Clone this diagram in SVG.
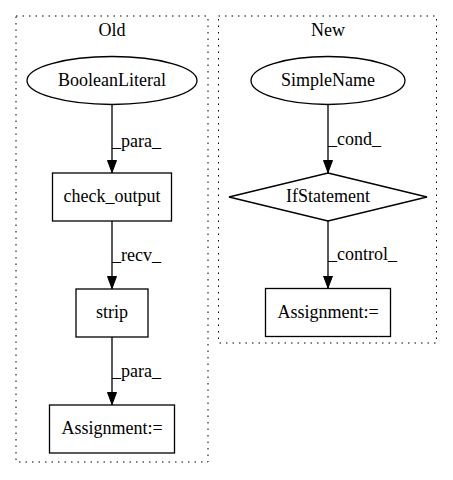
<svg xmlns="http://www.w3.org/2000/svg" width="453" height="480" viewBox="0 0 453 480">
<defs>
<marker id="arr" markerWidth="13" markerHeight="10" refX="13" refY="5" orient="auto" markerUnits="userSpaceOnUse">
<path d="M0.5,0.5 L12.5,5 L0.5,9.5 Z" fill="#000" stroke="#000"/>
</marker>
</defs>
<style>
text{font-family:"Liberation Serif","Times New Roman",Times,serif;font-size:18px;fill:#000}
.c{fill:none;stroke:#000;stroke-dasharray:1.5,5}
.n{fill:#fff;stroke:#000;stroke-width:1.3}
.e{fill:none;stroke:#000;stroke-width:1.3;marker-end:url(#arr)}
.m{text-anchor:middle}
</style>
<rect width="453" height="480" fill="#fff"/>
<g id="cluster_old">
<rect class="c" x="16" y="16" width="192" height="446"/>
<text class="m" x="112" y="36">Old</text>
</g>
<g id="cluster_new">
<rect class="c" x="218.5" y="16" width="218" height="327"/>
<text class="m" x="328" y="36">New</text>
</g>
<g id="edges">
<path class="e" d="M112,104.5 L112,173"/>
<text x="112" y="147">_para_</text>
<path class="e" d="M112,221 L112,289"/>
<text x="112" y="261">_recv_</text>
<path class="e" d="M112,337 L112,405"/>
<text x="112" y="377">_para_</text>
<path class="e" d="M328,104.5 L328,173"/>
<text x="328" y="145">_cond_</text>
<path class="e" d="M328,221 L328,288.5"/>
<text x="328" y="260">_control_</text>
</g>
<g id="n_boolean">
<ellipse class="n" cx="112" cy="80.5" rx="85" ry="24"/>
<text class="m" x="112" y="86">BooleanLiteral</text>
</g>
<g id="n_check">
<rect class="n" x="52.5" y="173" width="119" height="48"/>
<text class="m" x="112" y="202">check_output</text>
</g>
<g id="n_strip">
<rect class="n" x="76" y="289" width="72" height="48"/>
<text class="m" x="112" y="318">strip</text>
</g>
<g id="n_assign_old">
<rect class="n" x="49.5" y="405" width="125" height="48"/>
<text class="m" x="112" y="434">Assignment:=</text>
</g>
<g id="n_simplename">
<ellipse class="n" cx="328" cy="80.5" rx="77" ry="24"/>
<text class="m" x="328" y="86">SimpleName</text>
</g>
<g id="n_if">
<polygon class="n" points="328,173 427,197 328,221 229,197"/>
<text class="m" x="328" y="202">IfStatement</text>
</g>
<g id="n_assign_new">
<rect class="n" x="265.5" y="288.5" width="125" height="48"/>
<text class="m" x="328" y="318">Assignment:=</text>
</g>
</svg>
